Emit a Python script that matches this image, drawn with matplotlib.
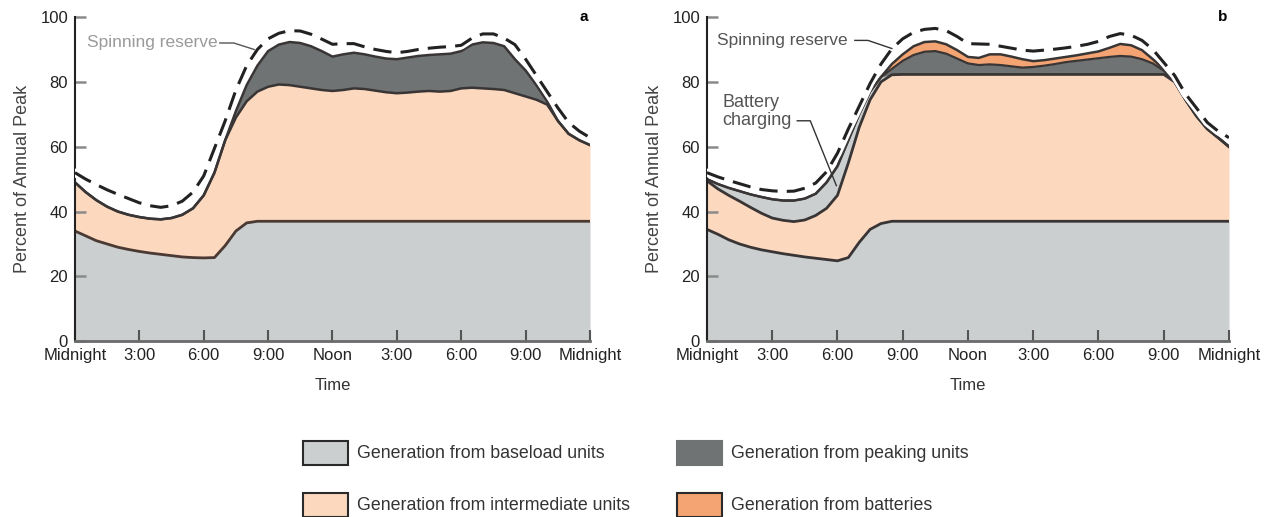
import matplotlib
matplotlib.use("Agg")
import matplotlib.pyplot as plt
from matplotlib.patches import Rectangle
import numpy as np

plt.rcParams['font.family'] = ['Liberation Sans', 'DejaVu Sans']

# hours of the day, every half hour
hours = np.arange(0, 24.5, 0.5)

# ---- panel a (values in percent of annual peak) ----
base_a = [34, 32.5, 31, 30, 29, 28.3, 27.7, 27.2, 26.8, 26.4, 26, 25.8, 25.7,
          25.8, 29.5, 34, 36.5] + [37] * 32
inter_a = [49, 46, 43.5, 41.5, 40, 39, 38.3, 37.8, 37.6, 38, 39, 41, 45,
           52, 62, 69, 74, 77, 78.5, 79.2, 79, 78.5, 78, 77.5, 77.2, 77.5,
           78, 77.8, 77.3, 76.8, 76.5, 76.7, 77, 77.2, 77, 77.2, 78, 78.2,
           78, 77.8, 77.5, 76.5, 75.5, 74.5, 73, 68, 64, 62, 60.5]
total_a = inter_a[:15] + [71, 79, 85, 89.5, 91.5, 92.3, 92, 91, 89.5, 87.8,
                          88.5, 89, 88.5, 87.8, 87.2, 87, 87.5, 88, 88.3, 88.5,
                          88.7, 89.5, 91.5, 92.2, 92, 91, 87, 83.5, 79, 74,
                          68, 64, 62, 60.5]
reserve_a = [52, 50, 48.3, 46.7, 45.3, 44, 42.7, 41.8, 41.3, 41.8, 43.2, 46,
             51, 59.5, 68, 77.5, 85, 90, 93.3, 95, 95.8, 95.7, 94.7, 93.2,
             91.6, 91.8, 91.8, 90.8, 90, 89.4, 89, 89.4, 90, 90.4, 90.7,
             90.9, 91.3, 93.5, 94.8, 94.8, 93.5, 91.5, 87, 82, 77, 72, 67.5,
             64.8, 62.8]

# ---- panel b ----
base_b = [34.5, 33, 31.3, 30, 29, 28.2, 27.6, 27, 26.5, 26, 25.6, 25.2, 24.8,
          25.8, 30.5, 34.5, 36.3] + [37] * 32
inter_b = [49.5, 47, 45, 43.2, 41.3, 39.5, 38, 37.3, 36.9, 37.4, 38.8, 41, 45,
           55, 66, 74.5, 80, 82.2] + [82.3] * 25 + [80, 74.5, 69.5, 65.5,
                                                   62.8, 60]
night_b = [50, 48.5, 47.3, 46.3, 45.3, 44.5, 43.8, 43.4, 43.4, 44, 45.5, 49,
           54, 62, 70, 77, 81.5]
charge_b = night_b + inter_b[17:]
peak_b = night_b + [84, 86.5, 88.3, 89.3, 89.5, 88.7, 87.2, 85.7, 85.2, 85.4,
                    85.2, 84.8, 84.4, 84.6, 85, 85.5, 86.1, 86.5, 86.9, 87.3,
                    87.7, 88, 87.8, 87, 85.7, 83.5] + inter_b[43:]
total_b = night_b + [85.5, 88.5, 91, 92.3, 92.5, 91.6, 89.8, 87.7, 87.4, 88.5,
                     88.5, 87.8, 87, 86.4, 86.7, 87.2, 87.7, 88.2, 88.8, 89.4,
                     90.5, 91.7, 91.3, 89.8, 87, 84] + inter_b[43:]
reserve_b = [52, 50.7, 49.6, 48.6, 47.6, 46.8, 46.4, 46.2, 46.3, 47.2, 48.8,
             52.3, 58, 65.5, 72.5, 79.5, 85.5, 90.2, 93.3, 95.3, 96.2, 96.5,
             95.8, 94, 91.8, 91.7, 91.6, 91, 90.4, 89.8, 89.5, 89.8, 90.1,
             90.5, 91, 91.6, 92.5, 94, 94.9, 94.4, 92.8, 90, 86, 82, 76.3, 72,
             67.5, 64.8, 62.8]

tick_hours = [0, 3, 6, 9, 12, 15, 18, 21, 24]
tick_names = ['Midnight', '3:00', '6:00', '9:00', 'Noon', '3:00', '6:00',
              '9:00', 'Midnight']

# leader lines for the labels (hour, percent)
leader_res_a = ([6.75, 7.4, 8.35], [92, 92, 90])
leader_res_b = ([6.8, 7.4, 8.5], [92.8, 92.8, 90.3])
leader_charge = ([4.15, 4.75, 5.95], [68, 68, 48])

C_BASE = '#cbcfcf'
C_INTER = '#fcd8bf'
C_PEAK = '#6f7373'
C_BATT = '#f4a472'
C_LINE = '#3a3535'

fig = plt.figure(figsize=(12.64, 5.17), dpi=100)
ax_a = fig.add_axes([0.0593, 0.340, 0.4075, 0.627])
ax_b = fig.add_axes([0.5593, 0.340, 0.4130, 0.627])


def style_axes(ax, letter):
    ax.set_xlim(0, 24)
    ax.set_ylim(0, 100)
    ax.set_xticks(tick_hours)
    ax.set_xticklabels(tick_names)
    ax.set_yticks([0, 20, 40, 60, 80, 100])
    ax.tick_params(axis='x', direction='in', length=8, width=1.5,
                   color='#555555', labelsize=12, pad=5, labelcolor='#222222')
    ax.tick_params(axis='y', direction='in', length=8, width=1.8,
                   color='#8a8a8a', labelsize=12, pad=5, labelcolor='#222222')
    for s in ['top', 'right']:
        ax.spines[s].set_visible(False)
    ax.spines['left'].set_linewidth(1.5)
    ax.spines['left'].set_color('#222222')
    ax.spines['bottom'].set_linewidth(2)
    ax.spines['bottom'].set_color('#6a6a6a')
    ax.set_xlabel('Time', fontsize=12, labelpad=11, color='#333333')
    ax.set_ylabel('Percent of Annual Peak', fontsize=13, labelpad=7,
                  color='#444444')
    ax.text(23.7, 100, letter, fontsize=11, fontweight='bold',
            ha='center', va='center')


def reserve_line(ax, vals):
    ax.plot(hours, vals, color='white', lw=6, solid_capstyle='round', zorder=4)
    ax.plot(hours, vals, color='#222222', lw=2.2, dashes=(6, 3), zorder=5)


# panel a
ax = ax_a
ax.fill_between(hours, 0, base_a, color=C_BASE, lw=0)
ax.fill_between(hours, base_a, inter_a, color=C_INTER, lw=0)
ax.fill_between(hours, inter_a, total_a, color=C_PEAK, lw=0)
ax.plot(hours, base_a, color='#4a3a33', lw=2)
ax.plot(hours, inter_a, color=C_LINE, lw=1.8)
ax.plot(hours, total_a, color=C_LINE, lw=1.8)
reserve_line(ax, reserve_a)
ax.text(0.55, 92, 'Spinning reserve', fontsize=12.5, color='#9a9a9a',
        va='center')
ax.plot(*leader_res_a, color='#555555', lw=1, zorder=6)
style_axes(ax, 'a')

# panel b
ax = ax_b
ax.fill_between(hours, 0, base_b, color=C_BASE, lw=0)
ax.fill_between(hours, base_b, inter_b, color=C_INTER, lw=0)
ax.fill_between(hours, inter_b, charge_b, color=C_BASE, lw=0)
ax.fill_between(hours, charge_b, peak_b, color=C_PEAK, lw=0)
ax.fill_between(hours, peak_b, total_b, color=C_BATT, lw=0)
ax.plot(hours, base_b, color=C_LINE, lw=2)
ax.plot(hours, inter_b, color=C_LINE, lw=2)
ax.plot(hours, peak_b, color=C_LINE, lw=1.6)
ax.plot(hours, total_b, color=C_LINE, lw=1.8)
reserve_line(ax, reserve_b)
ax.text(0.45, 92.8, 'Spinning reserve', fontsize=12.5, color='#555555',
        va='center')
ax.plot(*leader_res_b, color='#333333', lw=1, zorder=6)
ax.text(0.7, 73.5, 'Battery', fontsize=13, color='#555555', va='center')
ax.text(0.7, 68, 'charging', fontsize=13, color='#555555', va='center')
ax.plot(*leader_charge, color='#333333', lw=1, zorder=6)
style_axes(ax, 'b')

# legend
legend_items = [('Generation from baseload units', C_BASE, True),
                ('Generation from peaking units', C_PEAK, False),
                ('Generation from intermediate units', C_INTER, True),
                ('Generation from batteries', C_BATT, True)]
W, H = 1264.0, 517.0
col_x = [303, 677]
row_y = [453, 505]
for i, (name, col, edged) in enumerate(legend_items):
    x0 = col_x[i % 2]
    yc = row_y[i // 2]
    rect = Rectangle((x0 / W, 1 - (yc + 12) / H), 45 / W, 24 / H,
                     transform=fig.transFigure, facecolor=col,
                     edgecolor='#2a2a2a' if edged else col, lw=1.5)
    fig.add_artist(rect)
    fig.text((x0 + 54) / W, 1 - yc / H, name, fontsize=12.8,
             color='#333333', va='center', ha='left')

fig.savefig('out.png', dpi=100)
